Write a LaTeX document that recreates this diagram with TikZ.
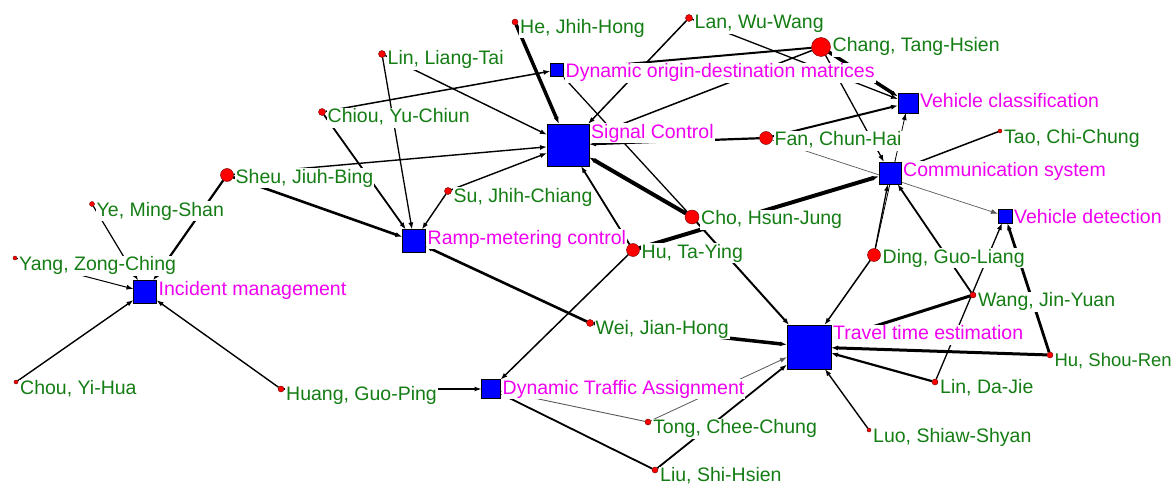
\documentclass[tikz,border=0pt]{standalone}
\usepackage{fontspec}
\setmainfont{Liberation Sans}
\usetikzlibrary{arrows.meta,calc}
\pgfdeclarelayer{edgelayer}
\pgfdeclarelayer{labellayer}
\pgfsetlayers{edgelayer,labellayer,main}
\definecolor{pgreen}{RGB}{20,125,20}
\definecolor{tmag}{RGB}{240,0,240}
\definecolor{tblue}{RGB}{0,0,255}
\definecolor{pred}{RGB}{255,0,0}
\begin{document}
\begin{tikzpicture}[x=1pt,y=-1pt,
  topic/.style={rectangle,draw=black,line width=0.6pt,fill=tblue,minimum size=#1,inner sep=0pt,outer sep=0pt},
  person/.style={circle,draw=black!60!red,line width=0.4pt,fill=pred,minimum size=#1,inner sep=0pt,outer sep=0pt},
  lab/.style={anchor=base west,fill=white,inner sep=1pt,text height=14pt,text depth=4pt,font=\fontsize{19.5}{22}\selectfont},
  plab/.style={lab,text=pgreen},
  tlab/.style={lab,text=tmag},
  e/.style={draw=black,-{Latex[length=7pt,width=5pt]}},
  eg/.style={draw=black!65,-{Latex[length=7pt,width=5pt]}}]
\useasboundingbox (0,0) rectangle (1176,484);
% topics
\node[topic=23] (im) at (145,292) {};
\node[topic=23] (rm) at (414,241) {};
\node[topic=42] (sc) at (568,145) {};
\node[topic=13] (dodm) at (557,70) {};
\node[topic=20] (vc) at (908,103) {};
\node[topic=22] (cs) at (890,173) {};
\node[topic=14] (vd) at (1005,216) {};
\node[topic=44] (tte) at (809,347) {};
\node[topic=19] (dta) at (491,389) {};
% persons
\node[person=13] (sheu) at (227,175) {};
\node[person=5] (ye) at (92,204) {};
\node[person=4] (yang) at (15,258) {};
\node[person=4] (chou) at (16,382) {};
\node[person=6] (huang) at (281,389) {};
\node[person=7] (linlt) at (382,54) {};
\node[person=7] (chiou) at (322,112) {};
\node[person=7] (su) at (448,191) {};
\node[person=6] (he) at (515,22) {};
\node[person=7] (lan) at (689,18) {};
\node[person=19] (chang) at (821,47) {};
\node[person=13] (fan) at (766,138) {};
\node[person=4] (tao) at (1000,131) {};
\node[person=14] (cho) at (692,217) {};
\node[person=13] (huty) at (633,250) {};
\node[person=7] (wei) at (590,323) {};
\node[person=6] (tong) at (648,422) {};
\node[person=6] (liu) at (655,470) {};
\node[person=13] (ding) at (874,255) {};
\node[person=6] (wang) at (973,295) {};
\node[person=6] (husr) at (1050,355) {};
\node[person=6] (lindj) at (935,382) {};
\node[person=4] (luo) at (869,430) {};
% labels
\begin{pgfonlayer}{labellayer}
\node[tlab] (im-l) at ($(im.north east)+(1,14.5)$) {Incident management};
\node[tlab] (rm-l) at ($(rm.north east)+(1,14.5)$) {Ramp-metering control};
\node[tlab] (sc-l) at ($(sc.north east)+(1,14.5)$) {Signal Control};
\node[tlab] (dodm-l) at ($(dodm.north east)+(1,14.5)$) {Dynamic origin-destination matrices};
\node[tlab] (vc-l) at ($(vc.north east)+(1,14.5)$) {Vehicle classification};
\node[tlab] (cs-l) at ($(cs.north east)+(1,14.5)$) {Communication system};
\node[tlab] (vd-l) at ($(vd.north east)+(1,14.5)$) {Vehicle detection};
\node[tlab] (tte-l) at ($(tte.north east)+(1,14.5)$) {Travel time estimation};
\node[tlab] (dta-l) at ($(dta.north east)+(1,14.5)$) {Dynamic Traffic Assignment};
\node[plab] (sheu-l) at ($(sheu.east|-sheu.north)+(1,14.5)$) {Sheu, Jiuh-Bing};
\node[plab] (ye-l) at ($(ye.east|-ye.north)+(1,14.5)$) {Ye, Ming-Shan};
\node[plab] (yang-l) at ($(yang.east|-yang.north)+(1,14.5)$) {Yang, Zong-Ching};
\node[plab] (chou-l) at ($(chou.east|-chou.north)+(1,14.5)$) {Chou, Yi-Hua};
\node[plab] (huang-l) at ($(huang.east|-huang.north)+(1,14.5)$) {Huang, Guo-Ping};
\node[plab] (linlt-l) at ($(linlt.east|-linlt.north)+(1,14.5)$) {Lin, Liang-Tai};
\node[plab] (chiou-l) at ($(chiou.east|-chiou.north)+(1,14.5)$) {Chiou, Yu-Chiun};
\node[plab] (su-l) at ($(su.east|-su.north)+(1,14.5)$) {Su, Jhih-Chiang};
\node[plab] (he-l) at ($(he.east|-he.north)+(1,14.5)$) {He, Jhih-Hong};
\node[plab] (lan-l) at ($(lan.east|-lan.north)+(1,14.5)$) {Lan, Wu-Wang};
\node[plab] (chang-l) at ($(chang.east|-chang.north)+(1,14.5)$) {Chang, Tang-Hsien};
\node[plab] (fan-l) at ($(fan.east|-fan.north)+(1,14.5)$) {Fan, Chun-Hai};
\node[plab] (tao-l) at ($(tao.east|-tao.north)+(1,14.5)$) {Tao, Chi-Chung};
\node[plab] (cho-l) at ($(cho.east|-cho.north)+(1,14.5)$) {Cho, Hsun-Jung};
\node[plab] (huty-l) at ($(huty.east|-huty.north)+(1,14.5)$) {Hu, Ta-Ying};
\node[plab] (wei-l) at ($(wei.east|-wei.north)+(1,14.5)$) {Wei, Jian-Hong};
\node[plab] (tong-l) at ($(tong.east|-tong.north)+(1,14.5)$) {Tong, Chee-Chung};
\node[plab] (liu-l) at ($(liu.east|-liu.north)+(1,14.5)$) {Liu, Shi-Hsien};
\node[plab] (ding-l) at ($(ding.east|-ding.north)+(1,14.5)$) {Ding, Guo-Liang};
\node[plab] (wang-l) at ($(wang.east|-wang.north)+(1,14.5)$) {Wang, Jin-Yuan};
\node[plab,font=\fontsize{18.5}{22}\selectfont] (husr-l) at ($(husr.east|-husr.north)+(0.3,14.5)$) {Hu, Shou-Ren};
\node[plab] (lindj-l) at ($(lindj.east|-lindj.north)+(1,14.5)$) {Lin, Da-Jie};
\node[plab] (luo-l) at ($(luo.east|-luo.north)+(1,14.5)$) {Luo, Shiaw-Shyan};
\end{pgfonlayer}
% edges
\begin{pgfonlayer}{edgelayer}
\fill[white] (0,0) rectangle (1176,484);
% incident management
\draw[e,line width=1.2pt] (ye) -- (im);
\draw[e,line width=2.2pt] (sheu) -- (im);
\draw[e,line width=1.0pt] (yang) -- (im);
\draw[e,line width=1.4pt] (chou) -- (im);
\draw[e,line width=1.4pt] (huang) -- (im);
% ramp metering
\draw[e,line width=2.6pt] (sheu) -- (rm);
\draw[e,line width=1.8pt] (chiou) -- (rm);
\draw[e,line width=1.3pt] (linlt) -- (rm);
\draw[e,line width=1.4pt] (su) -- (rm);
\draw[e,line width=2.6pt] (wei) -- (rm);
% signal control
\draw[e,line width=1.4pt] (linlt) -- (sc);
\draw[e,line width=1.4pt] (sheu) -- (sc);
\draw[e,line width=1.4pt] (su) -- (sc);
\draw[e,line width=3.5pt] (he) -- (sc);
\draw[e,line width=1.5pt] (lan) -- (sc);
\draw[e,line width=2.2pt] (fan) -- (sc);
\draw[e,line width=4pt] (cho) -- (sc);
\draw[e,line width=1.8pt] (huty) -- (sc);
\draw[e,line width=1.5pt] (chang) -- (sc);
% dynamic OD matrices
\draw[e,line width=1.5pt] (chiou) -- (dodm);
\draw[e,line width=2pt] (chang) -- (dodm);
\draw[e,line width=1.3pt] (cho) -- (dodm);
% vehicle classification
\draw[e,line width=3.5pt] (chang) -- (vc);
\draw[e,line width=1.3pt] (lan) -- (vc);
\draw[e,line width=2pt] (fan) -- (vc);
\draw[e,line width=0.8pt] (ding) -- (vc);
% communication system
\draw[e,line width=1.3pt] (chang) -- (cs);
\draw[e,line width=4pt] (huty) -- (cs);
\draw[e,line width=1.5pt] (tao) -- (cs);
\draw[e,line width=1.8pt] (wang) -- (cs);
\draw[e,line width=1.3pt] (ding) -- (cs);
% vehicle detection
\draw[eg,line width=0.7pt] (fan) -- (vd);
\draw[e,line width=1.3pt] (lindj) -- (vd);
\draw[e,line width=2.8pt] (husr) -- (vd);
% travel time estimation
\draw[e,line width=3pt] (husr) -- (tte);
\draw[e,line width=2.2pt] (lindj) -- (tte);
\draw[e,line width=1.4pt] (luo) -- (tte);
\draw[e,line width=1.5pt] (ding) -- (tte);
\draw[e,line width=3pt] (wang) -- (tte);
\draw[e,line width=2pt] (cho) -- (tte);
\draw[e,line width=3.5pt] (wei) -- (tte);
\draw[eg,line width=0.8pt] (tong) -- (tte);
\draw[e,line width=1.8pt] (liu) -- (tte);
% dynamic traffic assignment
\draw[e,line width=1.2pt] (huang) -- (dta);
\draw[e,line width=1.5pt] (huty) -- (dta);
\draw[eg,line width=0.9pt] (tong) -- (dta);
\draw[e,line width=1.8pt] (liu) -- (dta);
\end{pgfonlayer}
\end{tikzpicture}
\end{document}
